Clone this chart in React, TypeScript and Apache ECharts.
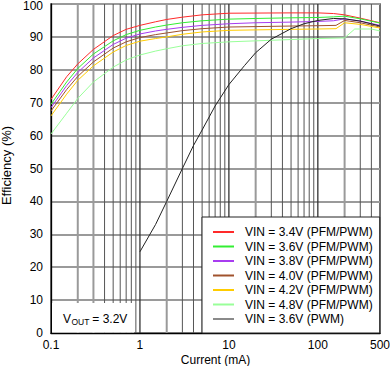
import React, { useEffect, useRef } from "react";
import * as echarts from "echarts";

// ---- Data ----
const seriesNames = [
  "VIN = 3.4V (PFM/PWM)",
  "VIN = 3.6V (PFM/PWM)",
  "VIN = 3.8V (PFM/PWM)",
  "VIN = 4.0V (PFM/PWM)",
  "VIN = 4.2V (PFM/PWM)",
  "VIN = 4.8V (PFM/PWM)",
  "VIN = 3.6V (PWM)",
];

const curr34 = [0.1, 0.15, 0.2, 0.3, 0.5, 0.7, 1, 1.5, 2, 3, 5, 10, 50, 100, 150, 200, 300, 500];
const eff34 = [71, 77.9, 81.8, 86.2, 90.4, 92.3, 93.5, 94.6, 95.3, 96, 96.7, 97.2, 97.3, 97.3, 97.1, 96.7, 95.7, 94.3];

const curr36 = [0.1, 0.15, 0.2, 0.3, 0.5, 0.7, 1, 1.5, 2, 3, 5, 10, 20, 50, 100, 150, 200, 300, 500];
const eff36 = [69.5, 76.3, 80.4, 84.8, 88.8, 90.7, 92, 93, 93.6, 94.3, 94.9, 95.4, 95.6, 95.8, 95.9, 96.1, 96.3, 95.5, 94.2];

const curr38 = [0.1, 0.15, 0.2, 0.3, 0.5, 0.7, 1, 1.5, 2, 3, 5, 10, 20, 50, 100, 150, 200, 300, 500];
const eff38 = [68.5, 75.2, 79.2, 83.6, 87.7, 89.6, 90.9, 91.8, 92.3, 92.9, 93.5, 94, 94.3, 94.5, 94.7, 94.9, 95.5, 94.8, 93.5];

const curr40 = [0.1, 0.15, 0.2, 0.3, 0.5, 0.7, 1, 1.5, 2, 3, 5, 10, 50, 100, 160, 200, 300, 500];
const eff40 = [67.5, 74, 78, 82.4, 86.6, 88.5, 89.8, 90.7, 91.2, 91.9, 92.5, 93, 93.3, 93.4, 93.5, 95, 94.3, 93];

const curr42 = [0.1, 0.15, 0.2, 0.3, 0.5, 0.7, 1, 1.5, 2, 3, 5, 10, 50, 100, 160, 200, 300, 500];
const eff42 = [66, 72.6, 76.8, 81.2, 85.4, 87.4, 88.7, 89.5, 90, 90.8, 91.5, 92, 92.3, 92.4, 92.5, 94.3, 93.8, 92.7];

const curr48 = [0.1, 0.15, 0.2, 0.3, 0.5, 0.7, 1, 1.5, 2, 3, 5, 10, 20, 50, 100, 200, 260, 400, 500];
const eff48 = [60.5, 66.8, 71.3, 76.3, 80.8, 83, 84.5, 85.7, 86.4, 87.3, 88, 88.5, 88.8, 89.2, 89.5, 89.7, 92.4, 92.4, 91.8];

const currPwm = [1, 1.5, 2, 3, 4, 5, 7, 10, 15, 20, 30, 50, 70, 100, 150, 200, 300, 500];
const effPwm = [24.7, 33, 40, 50, 57, 61.7, 69, 75.5, 81.3, 85.2, 89.3, 92.5, 94, 95, 95.6, 95.5, 94.8, 93.3];

const xTickValues = [0.1, 1, 10, 100, 500];
const xTickLabels = ["0.1", "1", "10", "100", "500"];

// vertical log-grid positions
const gridCurrents = [
  0.2, 0.3, 0.4, 0.5, 0.6, 0.7, 0.8, 0.9, 1,
  2, 3, 4, 5, 6, 7, 8, 9, 10,
  20, 30, 40, 50, 60, 70, 80, 90, 100,
  200, 300, 400,
];
const lightGridCurrents = [0.2, 0.3, 2, 20, 200];

const lineColors = ["#ff2a2a", "#33ee33", "#a83cf0", "#a0522d", "#ffcc00", "#99ff99", "#222222"];
const legendColors = ["#ff2a2a", "#33ee33", "#a83cf0", "#a0522d", "#ffcc00", "#99ff99", "#8a8a8a"];

const FONT = "'Liberation Sans', Arial, Helvetica, sans-serif";

export default function App() {
  const ref = useRef<HTMLDivElement>(null);

  useEffect(() => {
    if (!ref.current) return;
    const chart = echarts.init(ref.current, undefined, { renderer: "svg" });

    const xs = [curr34, curr36, curr38, curr40, curr42, curr48, currPwm];
    const ys = [eff34, eff36, eff38, eff40, eff42, eff48, effPwm];

    const dataSeries = seriesNames.map((name, i) => ({
      name,
      type: "line",
      data: xs[i].map((x, j) => [x, ys[i][j]]),
      showSymbol: false,
      symbol: "none",
      smooth: false,
      z: 3,
      itemStyle: { color: legendColors[i] },
      lineStyle: { color: lineColors[i], width: 1 },
    }));

    const option: any = {
      animation: false,
      textStyle: { fontFamily: FONT },
      grid: {
        left: 51,
        right: 10,
        top: 4,
        bottom: 33,
        containLabel: false,
        outerBoundsMode: "none",
        show: true,
        borderColor: "#222",
        borderWidth: 1.3,
        backgroundColor: "transparent",
      },
      xAxis: {
        type: "log",
        logBase: 10,
        min: 0.1,
        max: 500,
        name: "Current (mA)",
        nameLocation: "middle",
        nameGap: 21,
        nameMoveOverlap: false,
        nameTextStyle: { fontSize: 12, color: "#000", fontFamily: FONT },
        axisLine: { show: true, onZero: false, lineStyle: { color: "#000", width: 1.3 } },
        axisTick: { show: false },
        splitLine: { show: false },
        axisLabel: {
          customValues: xTickValues,
          formatter: (v: number) => {
            const idx = xTickValues.findIndex((t) => Math.abs(t - v) / t < 1e-6);
            return idx >= 0 ? xTickLabels[idx] : "";
          },
          fontSize: 12,
          color: "#000",
          margin: 6,
          fontFamily: FONT,
          showMinLabel: true,
          showMaxLabel: true,
          hideOverlap: false,
        },
      },
      yAxis: {
        type: "value",
        min: 0,
        max: 100,
        interval: 10,
        name: "Efficiency (%)",
        nameLocation: "middle",
        nameGap: 38,
        nameMoveOverlap: false,
        nameTextStyle: { fontSize: 13, color: "#000", fontFamily: FONT, padding: [0, 0, 0, 6] },
        axisLine: { show: true, onZero: false, lineStyle: { color: "#000", width: 1.3 } },
        axisTick: { show: false },
        splitLine: { show: true, lineStyle: { color: "#9a9a9a", width: 2 } },
        axisLabel: {
          fontSize: 12,
          color: "#000",
          margin: 8,
          fontFamily: FONT,
          showMinLabel: true,
          showMaxLabel: true,
          hideOverlap: false,
          formatter: (v: number) => (v === 100 ? "{top|100}" : String(v)),
          rich: {
            top: { fontSize: 12, color: "#000", fontFamily: FONT, padding: [3, 0, 0, 0] },
          },
        },
      },
      legend: {
        orient: "vertical",
        left: 202,
        top: 217,
        backgroundColor: "#fff",
        borderColor: "#222",
        borderWidth: 1,
        borderRadius: 0,
        padding: [8, 7, 7, 11],
        itemWidth: 21,
        itemHeight: 2,
        itemGap: 0.5,
        icon: "rect",
        selectedMode: false,
        textStyle: {
          fontSize: 12,
          color: "#000",
          lineHeight: 14,
          fontFamily: FONT,
          padding: [0, 0, 0, 6],
        },
        data: seriesNames.map((name, i) => ({
          name,
          icon: "rect",
          itemStyle: { color: legendColors[i], borderWidth: 0 },
        })),
        z: 10,
      },
      series: [
        {
          type: "custom",
          name: "__grid",
          z: 1,
          silent: true,
          data: gridCurrents.map((v) => [v]),
          encode: { x: 0 },
          clip: true,
          renderItem: (params: any, api: any) => {
            const v = api.value(0);
            const p1 = api.coord([v, 0]);
            const p2 = api.coord([v, 100]);
            const light = lightGridCurrents.some((t) => Math.abs(t - v) / t < 1e-6);
            const major = v === 1 || v === 10 || v === 100;
            return {
              type: "line",
              shape: { x1: p1[0], y1: p1[1], x2: p2[0], y2: p2[1] },
              style: {
                stroke: light ? "#9a9a9a" : major ? "#333" : "#555",
                lineWidth: light ? 2 : major ? 1.3 : 1,
              },
            };
          },
        },
        ...dataSeries,
      ],
      graphic: [
        {
          type: "rect",
          z: 50,
          shape: { x: 52, y: 303, width: 82, height: 29.5 },
          style: { fill: "#fff" },
        },
        {
          type: "text",
          z: 51,
          x: 63,
          y: 318.5,
          style: { text: "V", fill: "#000", font: `12px ${FONT}`, verticalAlign: "middle" },
        },
        {
          type: "text",
          z: 51,
          x: 71.5,
          y: 321.5,
          style: { text: "OUT", fill: "#000", font: `8.5px ${FONT}`, verticalAlign: "middle" },
        },
        {
          type: "text",
          z: 51,
          x: 89,
          y: 318.5,
          style: { text: " = 3.2V", fill: "#000", font: `12px ${FONT}`, verticalAlign: "middle" },
        },
      ],
    };

    chart.setOption(option);
    return () => chart.dispose();
  }, []);

  return (
    <div
      ref={ref}
      style={{ position: "fixed", left: 0, top: 0, width: 390, height: 366, background: "#fff" }}
    />
  );
}
